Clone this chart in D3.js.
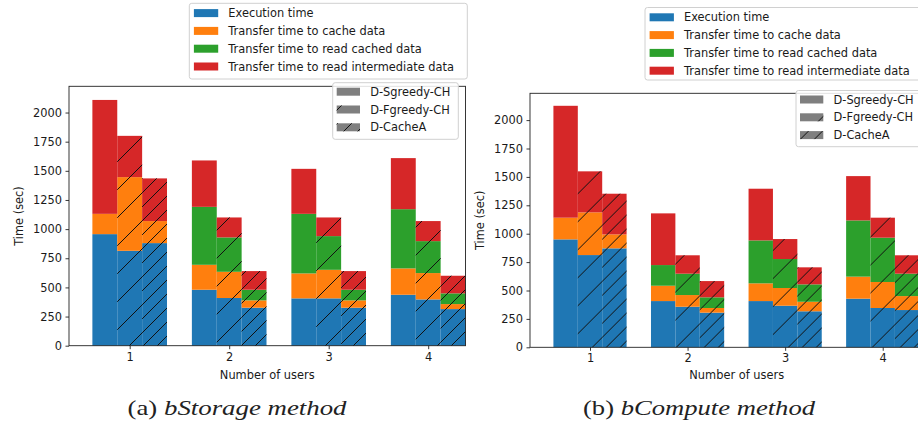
<!DOCTYPE html>
<html><head><meta charset="utf-8">
<script src="https://cdn.jsdelivr.net/npm/d3@7"></script>
<style>body{margin:0;background:#fff}svg{display:block}text{fill:#1a1a1a}</style>
</head><body><svg id="c" width="918" height="428"></svg>
<script>
// ---------- data ----------
const categories = [1, 2, 3, 4];
const methods = ["D-Sgreedy-CH", "D-Fgreedy-CH", "D-CacheA"];
const components = ["Execution time", "Transfer time to cache data", "Transfer time to read cached data", "Transfer time to read intermediate data"];
const componentKeys = ["exec", "cache", "read", "inter"];
const colors = ["#1f77b4", "#ff7f0e", "#2ca02c", "#d62728"];
const yTicks = [0, 250, 500, 750, 1000, 1250, 1500, 1750, 2000];
const captions = [["(a) ", "bStorage method"], ["(b) ", "bCompute method"]];
const yLabel = "Time (sec)";
const xLabel = "Number of users";

// values per category (rows) and method [Sgreedy, Fgreedy, CacheA] (columns)
const storageExec         = [[957, 814, 880], [480, 409, 326], [406, 406, 326], [437, 397, 314]];
const storageCache        = [[174, 632, 189], [214, 225, 63], [214, 245, 63], [226, 226, 43]];
const storageReadCached   = [[0, 0, 0], [497, 295, 91], [511, 289, 91], [508, 274, 92]];
const storageIntermediate = [[977, 354, 366], [398, 171, 160], [386, 160, 160], [438, 172, 151]];

const computeExec         = [[950, 812, 871], [407, 357, 305], [407, 366, 317], [428, 346, 328]];
const computeCache        = [[191, 376, 123], [135, 103, 41], [156, 156, 84], [194, 229, 123]];
const computeReadCached   = [[0, 0, 0], [182, 188, 94], [378, 255, 153], [495, 390, 197]];
const computeIntermediate = [[985, 361, 358], [455, 162, 143], [455, 176, 150], [390, 176, 162]];

// ---------- drawing ----------
const svg = d3.select("#c");
const defs = svg.append("defs");
const FS = 11.4;
const SANS = '"DejaVu Sans", sans-serif';
const SERIF = '"Liberation Serif", "Times New Roman", serif';

function hatchPattern(id, P, phase) {
  const p = defs.append("pattern").attr("id", id).attr("patternUnits", "userSpaceOnUse")
    .attr("width", P).attr("height", P).attr("x", phase).attr("y", 0);
  p.append("path").attr("d", `M-2,2L2,-2M0,${P}L${P},0M${P-2},${P+2}L${P+2},${P-2}`)
    .attr("stroke", "#111").attr("stroke-width", 1).attr("fill", "none");
}

function buildRows(arrs) {
  const rows = [];
  categories.forEach((c, i) => methods.forEach((m, j) => {
    const r = {cat: c, mi: j};
    componentKeys.forEach((k, ki) => r[k] = arrs[ki][i][j]);
    rows.push(r);
  }));
  return rows;
}

function sansText(sel) { return sel.style("font-family", SANS).attr("font-size", FS); }

function drawPanel(cfg) {
  const P = 28;
  hatchPattern("hs" + cfg.id, P, cfg.phase);
  hatchPattern("hd" + cfg.id, P / 2, cfg.phase % (P / 2));
  const hatchFor = [null, `url(#hs${cfg.id})`, `url(#hd${cfg.id})`];

  const x = d3.scaleLinear().domain(cfg.xDomain).range([cfg.left, cfg.right]);
  const y = d3.scaleLinear().domain([0, cfg.yMax]).range([cfg.bottom, cfg.top]);
  const bw = x(1.25) - x(1);
  const rows = buildRows(cfg.data);
  const stack = d3.stack().keys(componentKeys)(rows);

  const g = svg.append("g");
  stack.forEach((layer, li) => {
    layer.forEach(d => {
      const cx = x(d.data.cat + (d.data.mi - 1) * 0.25);
      const h = y(d[0]) - y(d[1]);
      if (h <= 0) return;
      g.append("rect").attr("x", cx - bw / 2).attr("y", y(d[1])).attr("width", bw).attr("height", h)
        .attr("fill", colors[li]);
    });
  });
  rows.forEach(r => {
    if (!hatchFor[r.mi]) return;
    const tot = componentKeys.reduce((s, k) => s + r[k], 0);
    const cx = x(r.cat + (r.mi - 1) * 0.25);
    g.append("rect").attr("x", cx - bw / 2).attr("y", y(tot)).attr("width", bw).attr("height", y(0) - y(tot))
      .attr("fill", hatchFor[r.mi]);
  });

  svg.append("rect").attr("x", cfg.left).attr("y", cfg.top).attr("width", cfg.right - cfg.left)
    .attr("height", cfg.bottom - cfg.top).attr("fill", "none").attr("stroke", "#222").attr("stroke-width", 0.9);

  const ya = svg.append("g").attr("transform", `translate(${cfg.left},0)`)
    .call(d3.axisLeft(y).tickValues(yTicks).tickSize(3.5).tickPadding(3.5).tickFormat(d3.format("d")));
  const xa = svg.append("g").attr("transform", `translate(0,${cfg.bottom})`)
    .call(d3.axisBottom(x).tickValues(categories).tickSize(3.5).tickPadding(3.5).tickFormat(d3.format("d")));
  [ya, xa].forEach(a => {
    a.select(".domain").remove();
    a.selectAll("line").attr("stroke", "#222").attr("stroke-width", 0.9);
    sansText(a.selectAll("text")).attr("fill", "#1a1a1a");
  });

  sansText(svg.append("text")).attr("transform", `translate(${cfg.yLabelX},${(cfg.top + cfg.bottom) / 2}) rotate(-90)`)
    .attr("text-anchor", "middle").attr("dy", "0.35em").text(yLabel);
  sansText(svg.append("text")).attr("x", (cfg.left + cfg.right) / 2).attr("y", cfg.xLabelY)
    .attr("text-anchor", "middle").text(xLabel);

  const hl = cfg.hatchLegend;
  svg.append("rect").attr("x", hl.x).attr("y", hl.y).attr("width", hl.w).attr("height", hl.h).attr("rx", 2.5)
    .attr("fill", "#fff").attr("fill-opacity", 0.85).attr("stroke", "#d0d0d0").attr("stroke-width", 1);
  methods.forEach((m, i) => {
    const cy = hl.y + 9 + i * 17.8;
    svg.append("rect").attr("x", hl.x + 4).attr("y", cy - 4).attr("width", 23.3).attr("height", 8).attr("fill", "#7f7f7f");
    if (hatchFor[i]) svg.append("rect").attr("x", hl.x + 4).attr("y", cy - 4).attr("width", 23.3).attr("height", 8).attr("fill", hatchFor[i]);
    sansText(svg.append("text")).attr("x", hl.x + 37.5).attr("y", cy + 4.1).text(m);
  });

  const cl = cfg.compLegend;
  svg.append("rect").attr("x", cl.x).attr("y", cl.y).attr("width", cl.w).attr("height", cl.h).attr("rx", 2.5)
    .attr("fill", "#fff").attr("fill-opacity", 0.85).attr("stroke", "#d0d0d0").attr("stroke-width", 1);
  components.forEach((c, i) => {
    const cy = cl.y + 9.8 + i * 17.8;
    svg.append("rect").attr("x", cl.x + 4.6).attr("y", cy - 4).attr("width", 24.3).attr("height", 8).attr("fill", colors[i]);
    sansText(svg.append("text")).attr("x", cl.x + 39).attr("y", cy + 4.1).text(c);
  });

  const cap = svg.append("text").attr("x", cfg.capX).attr("y", 415).attr("text-anchor", "middle")
    .style("font-family", SERIF).style("fill", "#222").attr("font-size", 22)
    .attr("textLength", cfg.capW).attr("lengthAdjust", "spacingAndGlyphs");
  cap.append("tspan").style("font-family", SERIF).text(cfg.caption[0]);
  cap.append("tspan").style("font-family", SERIF).style("font-style", "italic").text(cfg.caption[1]);
}

drawPanel({
  id: "a", data: [storageExec, storageCache, storageReadCached, storageIntermediate],
  xDomain: [0.39, 4.375], left: 69, right: 465.5, top: 86.3, bottom: 345.7, yMax: 2225,
  phase: 27, yLabelX: 18.5, xLabelY: 379,
  hatchLegend: {x: 332.7, y: 82.7, w: 125.6, h: 56.6},
  compLegend: {x: 189.3, y: 3.3, w: 278, h: 75.7},
  capX: 237, capW: 219, caption: captions[0]
});
drawPanel({
  id: "b", data: [computeExec, computeCache, computeReadCached, computeIntermediate],
  xDomain: [0.385, 4.622], left: 530, right: 943.4, top: 93.3, bottom: 347.3, yMax: 2236,
  phase: 15.6, yLabelX: 480, xLabelY: 379,
  hatchLegend: {x: 796, y: 90.5, w: 140, h: 56.2},
  compLegend: {x: 645, y: 7.5, w: 290, h: 72.5},
  capX: 699, capW: 232, caption: captions[1]
});
</script></body></html>
